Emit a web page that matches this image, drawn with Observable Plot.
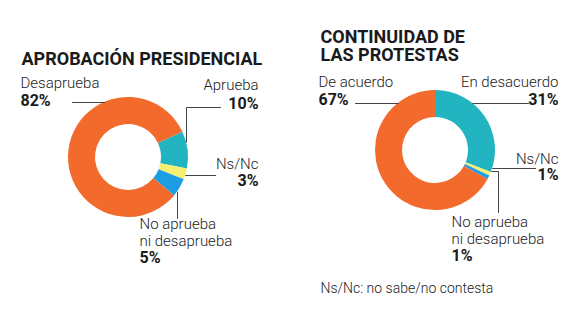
<!DOCTYPE html>
<html><head><meta charset="utf-8">
<script src="https://cdn.jsdelivr.net/npm/d3@7"></script>
<script src="https://cdn.jsdelivr.net/npm/@observablehq/plot@0.6"></script>
<style>body{margin:0;background:#fff}</style>
</head><body><div id="chart"></div>
<script>
// ---- data ----
const chartTitles = ["APROBACIÓN PRESIDENCIAL", "CONTINUIDAD DE\nLAS PROTESTAS"];
const sliceKeys = ["favor", "nsnc", "neutral", "contra"];
const aprobacionLabels = ["Aprueba", "Ns/Nc", "No aprueba\nni desaprueba", "Desaprueba"];
const aprobacionValues = [10, 3, 5, 82];
const continuidadLabels = ["En desacuerdo", "Ns/Nc", "No aprueba\nni desaprueba", "De acuerdo"];
const continuidadValues = [31, 1, 1, 67];
const footnote = "Ns/Nc: no sabe/no contesta";

// ---- style ----
const palette = {favor: "#22b4c1", nsnc: "#f7ef72", neutral: "#1d9de4", contra: "#f26a2c"};
const FONT = "Roboto, 'Open Sans', sans-serif";
const W = 580, H = 327;

// ---- layout (pixel positions) ----
const layout = [
  { cx: 128, cy: 157, r: 60, ri: 33, start: 65,
    title: {x: 21, y: 64},
    labels: [
      {x: 258, y: 89, p: 108, anchor: "end"},
      {x: 258, y: 168, p: 185, anchor: "end"},
      {x: 139, y: 245, p: 262, anchor: "start"},
      {x: 20, y: 87, p: 105, anchor: "start"}
    ],
    leaders: [
      {pts: [[220, 107], [186, 107]], to: "v"},
      {pts: [[215, 175]], to: "h"},
      {pts: [[177, 218]], to: "v"},
      {pts: [[72, 102]], to: "h"}
    ]},
  { cx: 435, cy: 150, r: 60, ri: 33, start: 0,
    title: {x: 320, y: 60},
    labels: [
      {x: 558, y: 86, p: 104, anchor: "end"},
      {x: 558, y: 163, p: 179, anchor: "end"},
      {x: 451, y: 243, p: 260, anchor: "start"},
      {x: 318, y: 86, p: 104, anchor: "start"}
    ],
    leaders: [
      {pts: [[528, 103]], to: "h"},
      {pts: [[535, 168]], to: "h"},
      {pts: [[498, 212], [498, 171]], to: "h"},
      {pts: [[355, 103]], to: "h"}
    ]}
];

const series = [
  {labels: aprobacionLabels, values: aprobacionValues},
  {labels: continuidadLabels, values: continuidadValues}
];

// label rows
const labelRows = [];
series.forEach((s, i) => s.labels.forEach((name, j) => {
  const L = layout[i].labels[j];
  labelRows.push({name, pct: `${s.values[j]}%`, x: L.x, y: L.y, p: L.p, anchor: L.anchor});
}));

// leader rows (ring end point derived from the donut geometry)
const leaderRows = [];
layout.forEach((L, i) => L.leaders.forEach((ld, j) => {
  const pts = ld.pts.map(d => d.slice());
  const last = pts[pts.length - 1];
  let end;
  if (ld.to === "h") {
    const dy = last[1] - L.cy;
    const dx = Math.sqrt(Math.max(0, L.r * L.r - dy * dy));
    end = [last[0] < L.cx ? L.cx - dx : L.cx + dx, last[1]];
  } else {
    const dx = last[0] - L.cx;
    const dy = Math.sqrt(Math.max(0, L.r * L.r - dx * dx));
    end = [last[0], last[1] < L.cy ? L.cy - dy : L.cy + dy];
  }
  pts.push(end);
  pts.forEach(([x, y]) => leaderRows.push({id: `${i}-${j}`, x, y}));
}));

function donut(i) {
  return (index, scales) => {
    const L = layout[i];
    const s = series[i];
    const cx = scales.x(L.cx), cy = scales.y(L.cy);
    const r = scales.x(L.cx + L.r) - cx, ri = scales.x(L.cx + L.ri) - cx;
    const a0 = L.start * Math.PI / 180;
    const pie = d3.pie().sort(null).value(d => d.value).startAngle(a0).endAngle(a0 + 2 * Math.PI);
    const arcs = pie(s.values.map((value, j) => ({value, key: sliceKeys[j]})));
    const arc = d3.arc().innerRadius(ri).outerRadius(r);
    const g = d3.create("svg:g").attr("transform", `translate(${cx},${cy})`);
    g.selectAll("path").data(arcs).join("path")
      .attr("d", arc).attr("fill", d => palette[d.data.key]);
    return g.node();
  };
}

const titleRows = chartTitles.map((t, i) => ({t, x: layout[i].title.x, y: layout[i].title.y}));
const startRows = labelRows.filter(d => d.anchor === "start");
const endRows = labelRows.filter(d => d.anchor === "end");

const textCommon = {fontFamily: FONT, lineAnchor: "bottom"};

const chart = Plot.plot({
  width: W, height: H, margin: 0,
  x: {domain: [0, W], range: [0, W], axis: null},
  y: {domain: [0, H], range: [0, H], axis: null},
  style: {background: "#fff"},
  marks: [
    donut(0), donut(1),
    Plot.line(leaderRows, {x: "x", y: "y", z: "id", stroke: "#444", strokeWidth: 1}),
    Plot.text(titleRows, {...textCommon, x: "x", y: "y", text: "t", textAnchor: "start", fontSize: 18, fontWeight: 700, fill: "#1a1a1a", lineHeight: 0.97}),
    Plot.text(startRows, {...textCommon, x: "x", y: "y", text: "name", textAnchor: "start", fontSize: 15, fontWeight: 300, fill: "#222", lineHeight: 1.13}),
    Plot.text(endRows, {...textCommon, x: "x", y: "y", text: "name", textAnchor: "end", fontSize: 15, fontWeight: 300, fill: "#222", lineHeight: 1.13}),
    Plot.text(startRows, {...textCommon, x: "x", y: "p", text: "pct", textAnchor: "start", fontSize: 16, fontWeight: 700, fill: "#1a1a1a"}),
    Plot.text(endRows, {...textCommon, x: "x", y: "p", text: "pct", textAnchor: "end", fontSize: 16, fontWeight: 700, fill: "#1a1a1a"}),
    Plot.text([footnote], {...textCommon, x: () => 320, y: () => 292, text: d => d, textAnchor: "start", fontSize: 14, fontWeight: 300, fill: "#222"})
  ]
});
document.getElementById("chart").append(chart);
</script>
</body></html>
